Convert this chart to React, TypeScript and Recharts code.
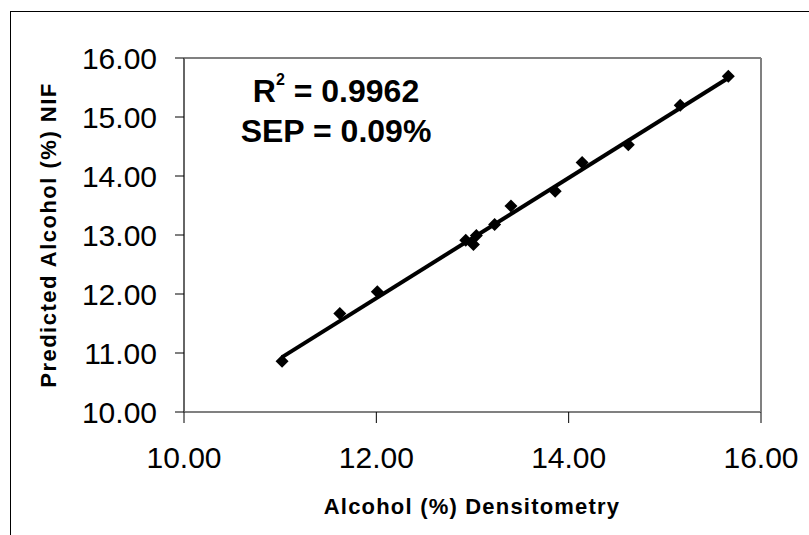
import React from "react";
import {
  ScatterChart,
  Scatter,
  XAxis,
  YAxis,
  ReferenceLine,
  Customized,
} from "recharts";

const densitometry = [11.02, 11.62, 12.01, 12.93, 13.04, 13.01, 13.23, 13.4, 13.86, 14.14, 14.62, 15.16, 15.66];
const predictedNIF = [10.86, 11.67, 12.04, 12.91, 12.99, 12.84, 13.18, 13.49, 13.74, 14.23, 14.53, 15.2, 15.69];
const trendX = [11.02, 15.66];
const trendY = [10.93, 15.66];
const xTicks = [10, 12, 14, 16];
const yTicks = [10, 11, 12, 13, 14, 15, 16];
const xTitle = "Alcohol (%) Densitometry";
const yTitle = "Predicted Alcohol (%) NIF";
const r2Text = "0.9962";
const sepText = "SEP = 0.09%";

const points = densitometry.map((x, i) => ({ x, y: predictedNIF[i] }));
const trend = trendX.map((x, i) => ({ x, y: trendY[i] }));

const FONT = "'Liberation Sans', Arial, sans-serif";

const Diamond = (props: any) => {
  const { cx, cy } = props;
  if (cx == null || cy == null) return null;
  const r = 6.5;
  return (
    <polygon
      points={`${cx},${cy - r} ${cx + r},${cy} ${cx},${cy + r} ${cx - r},${cy}`}
      fill="#000"
    />
  );
};

const Labels = () => (
  <g fontFamily={FONT} fill="#000">
    <text
      x={336}
      y={102}
      textAnchor="middle"
      fontSize={32}
      fontWeight="bold"
    >
      <tspan>R</tspan>
      <tspan fontSize={16} dy={-17}>2</tspan>
      <tspan dy={17}>{" = " + r2Text}</tspan>
    </text>
    <text x={336} y={142} textAnchor="middle" fontSize={32} fontWeight="bold">
      {sepText}
    </text>
    <text
      x={472}
      y={514}
      textAnchor="middle"
      fontSize={22}
      fontWeight="bold"
      letterSpacing={1.2}
    >
      {xTitle}
    </text>
    <text
      transform="translate(56,235) rotate(-90)"
      x={0}
      y={0}
      textAnchor="middle"
      fontSize={22}
      fontWeight="bold"
      letterSpacing={1.5}
    >
      {yTitle}
    </text>
  </g>
);

export default function App() {
  return (
    <div
      style={{
        position: "absolute",
        left: 0,
        top: 0,
        width: 809,
        height: 535,
        overflow: "hidden",
        background: "#fff",
      }}
    >
      <div
        style={{
          position: "absolute",
          left: 10,
          top: 11,
          width: 900,
          height: 700,
          border: "1px solid #000",
        }}
      />
      <div style={{ position: "absolute", left: 0, top: 0 }}>
        <ScatterChart
          width={809}
          height={535}
          margin={{ top: 58, right: 48, bottom: 0, left: 0 }}
        >
          <XAxis
            type="number"
            dataKey="x"
            domain={[10, 16]}
            ticks={xTicks}
            tickFormatter={(v: number) => v.toFixed(2)}
            height={123}
            tickSize={11}
            tickMargin={24}
            axisLine={{ stroke: "#808080", strokeWidth: 2 }}
            tickLine={{ stroke: "#000", strokeWidth: 1 }}
            tick={{ fill: "#000", fontSize: 30, fontFamily: FONT }}
            allowDataOverflow
          />
          <YAxis
            type="number"
            dataKey="y"
            domain={[10, 16]}
            ticks={yTicks}
            tickFormatter={(v: number) => v.toFixed(2)}
            width={184}
            tickSize={9}
            tickMargin={18}
            axisLine={{ stroke: "#666", strokeWidth: 2 }}
            tickLine={{ stroke: "#000", strokeWidth: 1 }}
            tick={{ fill: "#000", fontSize: 30, fontFamily: FONT }}
            allowDataOverflow
          />
          <ReferenceLine y={16} stroke="#808080" strokeWidth={2} />
          <ReferenceLine x={16} stroke="#808080" strokeWidth={2} />
          <Scatter
            data={trend}
            line={{ stroke: "#000", strokeWidth: 4 }}
            shape={() => null}
            isAnimationActive={false}
          />
          <Scatter data={points} shape={Diamond} isAnimationActive={false} />
          <Customized component={Labels} />
        </ScatterChart>
      </div>
    </div>
  );
}
